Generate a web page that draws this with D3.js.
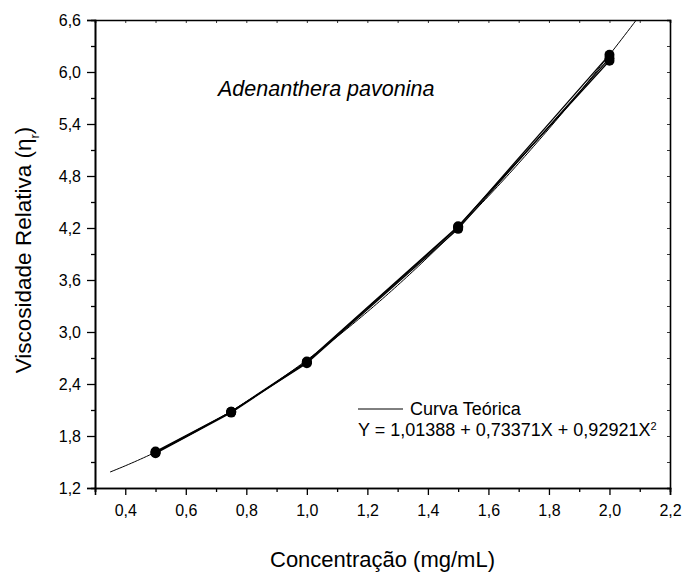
<!DOCTYPE html>
<html>
<head>
<meta charset="utf-8">
<script src="https://cdn.jsdelivr.net/npm/d3@7"></script>
<style>
  html, body { margin: 0; padding: 0; background: #fff; }
  svg { display: block; }
  text { font-family: "Liberation Sans", Arial, sans-serif; fill: #000; }
</style>
</head>
<body>
<svg id="chart" width="683" height="574"></svg>
<script>
// ---- data ----
const concentrations = [0.5, 0.75, 1.0, 1.5, 2.0];
const replicate1 = [1.60, 2.07, 2.65, 4.21, 6.20];
const replicate2 = [1.61, 2.08, 2.66, 4.22, 6.13];
const replicate3 = [1.62, 2.08, 2.64, 4.19, 6.16];
const fitCoefficients = [1.01388, 0.73371, 0.92921];
const fitRange = [0.35, 2.2];
const xTickValues = [0.4, 0.6, 0.8, 1.0, 1.2, 1.4, 1.6, 1.8, 2.0, 2.2];
const xMinorTicks = [0.3, 0.5, 0.7, 0.9, 1.1, 1.3, 1.5, 1.7, 1.9, 2.1];
const yTickValues = [1.2, 1.8, 2.4, 3.0, 3.6, 4.2, 4.8, 5.4, 6.0, 6.6];
const yMinorTicks = [1.5, 2.1, 2.7, 3.3, 3.9, 4.5, 5.1, 5.7, 6.3];

const svg = d3.select("#chart");
const m = { left: 95, right: 683 - 670, top: 20, bottom: 574 - 488 };
const W = 683 - m.left - m.right, H = 574 - m.top - m.bottom;

const x = d3.scaleLinear().domain([0.3, 2.2]).range([m.left, m.left + W]);
const y = d3.scaleLinear().domain([1.2, 6.6]).range([m.top + H, m.top]);
const fmt = d => d3.format(".1f")(d).replace(".", ",");

svg.append("defs").append("clipPath").attr("id", "clip")
  .append("rect").attr("x", m.left).attr("y", m.top).attr("width", W).attr("height", H);

// axes
const gx = svg.append("g").attr("transform", `translate(0,${m.top + H})`)
  .call(d3.axisBottom(x).tickValues(xTickValues).tickFormat(fmt).tickSize(7).tickPadding(10));
const gxm = svg.append("g").attr("transform", `translate(0,${m.top + H})`)
  .call(d3.axisBottom(x).tickValues(xMinorTicks).tickFormat("").tickSize(4));
const gy = svg.append("g").attr("transform", `translate(${m.left},0)`)
  .call(d3.axisLeft(y).tickValues(yTickValues).tickFormat(fmt).tickSize(8).tickPadding(6));
const gym = svg.append("g").attr("transform", `translate(${m.left},0)`)
  .call(d3.axisLeft(y).tickValues(yMinorTicks).tickFormat("").tickSize(4));
const gt = svg.append("g").attr("transform", `translate(0,${m.top})`)
  .call(d3.axisBottom(x).tickValues(xTickValues.concat(xMinorTicks)).tickFormat("").tickSize(3));
const gr = svg.append("g").attr("transform", `translate(${m.left + W},0)`)
  .call(d3.axisLeft(y).tickValues(yTickValues.concat(yMinorTicks)).tickFormat("").tickSize(3));

[gx, gxm, gy, gym, gt, gr].forEach(g => {
  g.select(".domain").attr("stroke", "#000").attr("stroke-width", 1.6);
  g.selectAll(".tick line").attr("stroke", "#000").attr("stroke-width", 1.3);
  g.selectAll("text").style("font-family", '"Liberation Sans", Arial, sans-serif')
    .style("font-size", "16px").attr("fill", "#000");
});
gt.selectAll(".tick line").attr("stroke-width", 0.8);
gr.selectAll(".tick line").attr("stroke-width", 0.8);

// fitted curve
const plot = svg.append("g").attr("clip-path", "url(#clip)");
const fitX = d3.range(fitRange[0], fitRange[1] + 1e-9, 0.01);
const fitY = fitX.map(v => fitCoefficients[0] + fitCoefficients[1] * v + fitCoefficients[2] * v * v);
plot.append("path")
  .datum(fitX.map((v, i) => [v, fitY[i]]))
  .attr("fill", "none").attr("stroke", "#000").attr("stroke-width", 1)
  .attr("d", d3.line().x(d => x(d[0])).y(d => y(d[1])));

// replicate series
const reps = [replicate1, replicate2, replicate3];
const line = d3.line().x((d, i) => x(concentrations[i])).y(d => y(d));
reps.forEach(r => {
  plot.append("path").datum(r)
    .attr("fill", "none").attr("stroke", "#000").attr("stroke-width", 1.3)
    .attr("d", line);
});
reps.forEach(r => {
  plot.selectAll(null).data(r).enter().append("circle")
    .attr("cx", (d, i) => x(concentrations[i])).attr("cy", d => y(d))
    .attr("r", 5).attr("fill", "#000");
});

// titles
svg.append("text").attr("x", m.left + W / 2).attr("y", 567)
  .attr("text-anchor", "middle").style("font-size", "22px")
  .text("Concentração (mg/mL)");

const yt = svg.append("text").attr("transform", `translate(31,${m.top + H / 2 - 4}) rotate(-90)`)
  .attr("text-anchor", "middle").style("font-size", "22.5px");
yt.append("tspan").text("Viscosidade Relativa (η");
yt.append("tspan").attr("baseline-shift", "sub").style("font-size", "13px").text("r");
yt.append("tspan").text(")");

svg.append("text").attr("x", 218).attr("y", 96)
  .style("font-size", "21.5px").style("font-style", "italic")
  .text("Adenanthera pavonina");

// legend
svg.append("line").attr("x1", 358).attr("x2", 403).attr("y1", 409).attr("y2", 409)
  .attr("stroke", "#000").attr("stroke-width", 1);
svg.append("text").attr("x", 410).attr("y", 415).style("font-size", "18px").text("Curva Teórica");
const eq = svg.append("text").attr("x", 358).attr("y", 436).style("font-size", "18px");
eq.append("tspan").text("Y = 1,01388 + 0,73371X + 0,92921X");
eq.append("tspan").attr("baseline-shift", "super").style("font-size", "11px").text("2");
</script>
</body>
</html>
